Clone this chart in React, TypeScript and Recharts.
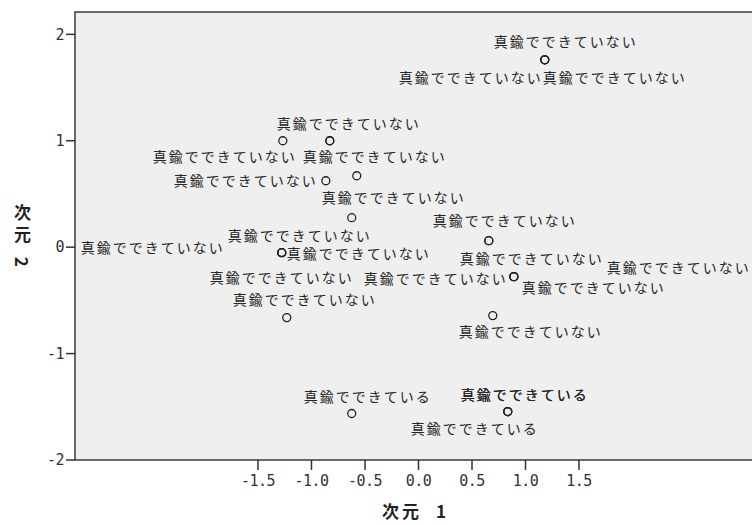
import React from 'react';
import { ScatterChart, Scatter, XAxis, YAxis, ReferenceArea } from 'recharts';

// object coordinates (SPSS multidimensional scaling plot)
const dimension1 = [
  1.18, 1.18, 1.18, -1.268, -0.829, -0.829, -0.866, -0.577, -0.624, 0.657, 0.657, -1.278,
  -1.278, -1.278, 0.891, 0.891, 0.891, -1.231, 0.694, -0.624, 0.834, 0.834, 0.834,
];
const dimension2 = [
  1.761, 1.761, 1.761, 1.0, 1.0, 1.0, 0.624, 0.671, 0.277, 0.061, 0.061, -0.052, -0.052,
  -0.052, -0.277, -0.277, -0.277, -0.662, -0.643, -1.563, -1.545, -1.545, -1.545,
];
const NOT_BRASS = '真鍮でできていない';
const BRASS = '真鍮でできている';
const objectNames = [
  NOT_BRASS, NOT_BRASS, NOT_BRASS, NOT_BRASS, NOT_BRASS, NOT_BRASS, NOT_BRASS, NOT_BRASS,
  NOT_BRASS, NOT_BRASS, NOT_BRASS, NOT_BRASS, NOT_BRASS, NOT_BRASS, NOT_BRASS, NOT_BRASS,
  NOT_BRASS, NOT_BRASS, NOT_BRASS, BRASS, BRASS, BRASS, BRASS,
];

const xTicks = [-1.5, -1, -0.5, 0, 0.5, 1, 1.5];
const yTicks = [-2, -1, 0, 1, 2];

// label offset from its point in px: [dx, dy, anchor] (collision-avoiding placement)
const labelPlacement: [number, number, 'start' | 'middle' | 'end'][] = [
  [21, -19, 'middle'],
  [-2, 17, 'end'],
  [-2, 17, 'start'],
  [14, 15, 'end'],
  [19, -18, 'middle'],
  [-27, 15, 'start'],
  [-8, -1, 'end'],
  [-35, 21, 'start'],
  [-124, 17, 'start'],
  [16, -21, 'middle'],
  [-29, 17, 'start'],
  [5, 0, 'start'],
  [-57, -6, 'end'],
  [-72, 24, 'start'],
  [-6, 1, 'end'],
  [8, 10, 'start'],
  [93, -10, 'start'],
  [18, -19, 'middle'],
  [-34, 15, 'start'],
  [16, -17, 'middle'],
  [17, -18, 'middle'],
  [17, -18, 'middle'],
  [-33, 16, 'middle'],
];

const points = dimension1.map((x, i) => ({ x, y: dimension2[i], name: objectNames[i], i }));

const X_DOMAIN: [number, number] = [-3.21, 3.21];
const Y_DOMAIN: [number, number] = [-2, 2.21];

const cjk = '"Noto Sans CJK JP", "Noto Sans CJK SC", sans-serif';
const mono = '"DejaVu Sans Mono", monospace';

function PointMark(props: any) {
  const { cx, cy, payload } = props;
  if (cx == null || cy == null) return null;
  const [dx, dy, anchor] = labelPlacement[payload.i];
  return (
    <g>
      <circle cx={cx} cy={cy} r={4} fill="none" stroke="#222" strokeWidth={1.3} />
      <text
        x={cx + dx}
        y={cy + dy}
        textAnchor={anchor}
        dominantBaseline="central"
        fontFamily={cjk}
        fontSize={14}
        letterSpacing={2}
        fill="#262626"
      >
        {payload.name}
      </text>
    </g>
  );
}

export default function App() {
  return (
    <div style={{ position: 'absolute', left: 0, top: 0, width: 752, height: 525, overflow: 'hidden', background: '#fff' }}>
      <ScatterChart width={770} height={525} margin={{ top: 12, right: 8, bottom: 25, left: 15 }}>
        <XAxis
          type="number"
          dataKey="x"
          domain={X_DOMAIN}
          ticks={xTicks}
          allowDataOverflow
          height={40}
          axisLine={false}
          tickSize={10}
          tickMargin={5}
          tickLine={{ stroke: '#333', strokeWidth: 1.5 }}
          tick={{ fill: '#333', fontSize: 15, fontFamily: mono, letterSpacing: -0.5 }}
          tickFormatter={(v: number) => v.toFixed(1)}
        />
        <YAxis
          type="number"
          dataKey="y"
          domain={Y_DOMAIN}
          ticks={yTicks}
          allowDataOverflow
          width={60}
          axisLine={false}
          tickSize={9}
          tickMargin={2}
          tickLine={{ stroke: '#333', strokeWidth: 1.5 }}
          tick={{ fill: '#333', fontSize: 15, fontFamily: mono, letterSpacing: -0.5 }}
        />
        <ReferenceArea
          x1={X_DOMAIN[0]}
          x2={X_DOMAIN[1]}
          y1={Y_DOMAIN[0]}
          y2={Y_DOMAIN[1]}
          fill="#efefef"
          fillOpacity={1}
          stroke="#3a3a3a"
          strokeWidth={1.5}
          ifOverflow="visible"
        />
        <Scatter data={points} shape={PointMark} isAnimationActive={false} />
      </ScatterChart>

      {/* axis titles */}
      <div
        style={{
          position: 'absolute',
          left: 382,
          top: 502,
          fontFamily: cjk,
          fontWeight: 700,
          fontSize: 17,
          lineHeight: '18px',
          color: '#222',
          whiteSpace: 'nowrap',
        }}
      >
        <span style={{ letterSpacing: 3 }}>次元</span>
        <span style={{ marginLeft: 14 }}>1</span>
      </div>
      <div
        style={{
          position: 'absolute',
          left: 12,
          top: 204,
          width: 20,
          writingMode: 'vertical-rl',
          textOrientation: 'mixed',
          fontFamily: cjk,
          fontWeight: 700,
          fontSize: 17,
          lineHeight: '20px',
          letterSpacing: 5,
          color: '#222',
          whiteSpace: 'nowrap',
        }}
      >
        次元 2
      </div>
    </div>
  );
}
